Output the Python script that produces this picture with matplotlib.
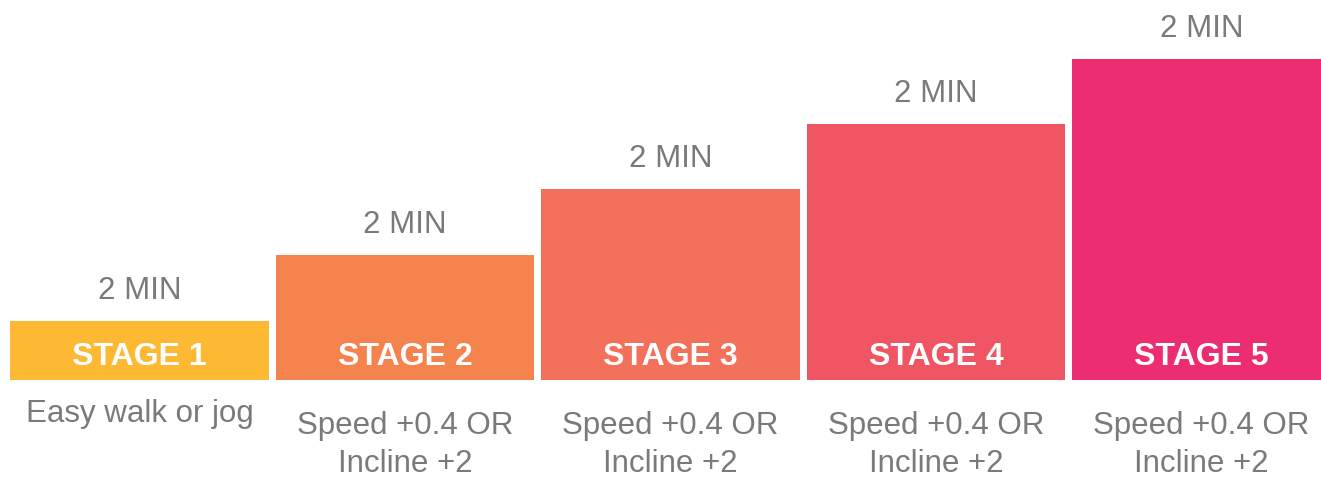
import numpy as np
from matplotlib import pyplot as plt

stages = ["STAGE 1", "STAGE 2", "STAGE 3", "STAGE 4", "STAGE 5"]
heights = [59, 125, 191, 256, 321]
durations = ["2 MIN", "2 MIN", "2 MIN", "2 MIN", "2 MIN"]
notes = ["Easy walk or jog",
         "Speed +0.4 OR\nIncline +2",
         "Speed +0.4 OR\nIncline +2",
         "Speed +0.4 OR\nIncline +2",
         "Speed +0.4 OR\nIncline +2"]
colors = ["#FDB933", "#F5834E", "#F3715A", "#EF5563", "#EC2E71"]

fig = plt.figure(figsize=(13.21, 4.78), dpi=100)
ax = fig.add_axes([0, 0, 1, 1])
x = np.arange(len(stages))
ax.bar(x, heights, width=0.975, color=colors)
ax.set_xlim(-0.5255, 4.45)
ax.set_ylim(-98, 380)
ax.axis("off")

gray = "#7a7a7a"
light = dict(family=["Liberation Sans", "DejaVu Sans"], color=gray, fontsize=22.5)
for i in x:
    ax.text(i, heights[i] + 30, durations[i], ha="center", va="center", **light)
    ax.text(i, 23, stages[i], ha="center", va="center", color="white",
            fontsize=23, weight="bold", family=["Liberation Sans", "DejaVu Sans"])
    if "\n" in notes[i]:
        ax.text(i, -65, notes[i], ha="center", va="center", linespacing=1.32, **light)
    else:
        ax.text(i, -34, notes[i], ha="center", va="center", **light)

fig.savefig("out.png", dpi=100)
